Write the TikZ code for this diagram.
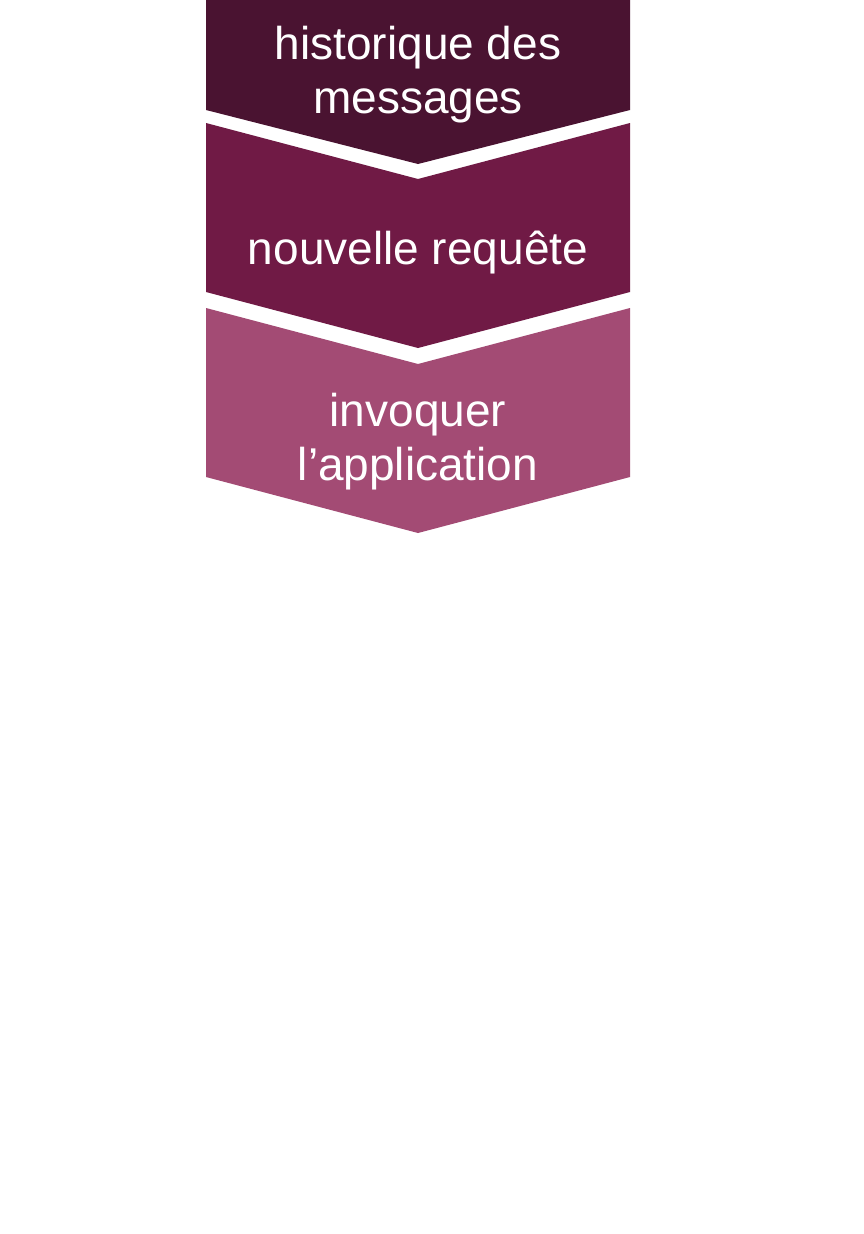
\documentclass[tikz,border=0pt]{standalone}
\usepackage{fontspec}
\setmainfont{Liberation Sans}
\definecolor{cA}{HTML}{4A1331}
\definecolor{cB}{HTML}{701A45}
\definecolor{cC}{HTML}{A34B74}
\begin{document}
\begin{tikzpicture}[x=1pt,y=-1pt,
  lbl/.style={text=white,align=center,font=\fontsize{46}{54}\selectfont,inner sep=0pt}]
\useasboundingbox (0,0) rectangle (864,1234);
\fill[white] (0,0) rectangle (864,1234);
% chevron 1 (top cut by the page)
\fill[cA] (206,0) -- (630,0) -- (630,110) -- (418,164) -- (206,110) -- cycle;
% chevron 2
\fill[cB] (206,123) -- (418,179) -- (630,123) -- (630,292) -- (418,348) -- (206,292) -- cycle;
% chevron 3
\fill[cC] (206,308) -- (418,364) -- (630,308) -- (630,477) -- (418,533) -- (206,477) -- cycle;
\node[lbl] (t1) at (418,75) {historique des\\messages};
\node[lbl] (t2) at (418,253) {nouvelle requête};
\node[lbl] (t3) at (418,442) {invoquer\\l’application};
\end{tikzpicture}
\end{document}
